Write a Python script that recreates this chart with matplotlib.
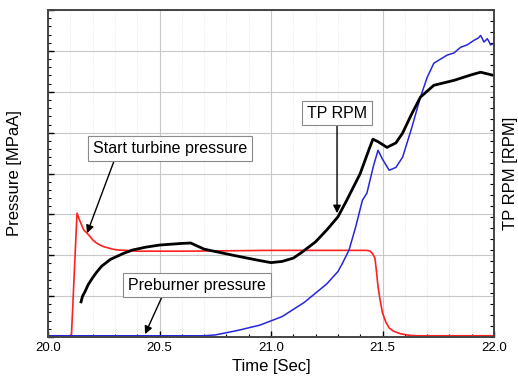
import matplotlib
matplotlib.use('Agg')
import matplotlib.pyplot as plt
from matplotlib.ticker import MultipleLocator, NullFormatter

plt.rcParams['font.family'] = ['Liberation Sans', 'DejaVu Sans']

# start turbine pressure (red)
t_red = [20.0, 20.105, 20.13, 20.14, 20.15, 20.16, 20.175, 20.19, 20.2, 20.215, 20.233, 20.25, 20.27,
         20.29, 20.31, 20.35, 20.4, 20.6, 20.8, 21.0, 21.2, 21.43, 21.445, 21.455, 21.466, 21.473,
         21.48, 21.49, 21.5, 21.515, 21.53, 21.55, 21.58, 21.62, 21.66, 22.0]
p_red = [0.03, 0.03, 3.03, 2.88, 2.75, 2.62, 2.54, 2.45, 2.38, 2.31, 2.25, 2.21, 2.18,
         2.15, 2.13, 2.12, 2.1, 2.1, 2.11, 2.12, 2.12, 2.12, 2.1, 2.04, 1.93, 1.6,
         1.22, 0.88, 0.59, 0.36, 0.22, 0.14, 0.08, 0.04, 0.03, 0.03]

# TP RPM (black)
t_rpm = [20.148, 20.155, 20.165, 20.18, 20.2, 20.22, 20.24, 20.28, 20.34, 20.38, 20.44, 20.5, 20.55,
         20.6, 20.64, 20.7, 20.83, 20.94, 21.0, 21.05, 21.1, 21.14, 21.2, 21.25, 21.3, 21.34, 21.4,
         21.44, 21.457, 21.48, 21.52, 21.56, 21.59, 21.63, 21.67, 21.73, 21.82, 21.9, 21.94, 22.0]
v_rpm = [0.86, 1.0, 1.1, 1.28, 1.45, 1.6, 1.73, 1.9, 2.05, 2.13, 2.2, 2.25, 2.27,
         2.29, 2.3, 2.15, 2.0, 1.88, 1.82, 1.85, 1.93, 2.08, 2.33, 2.62, 2.94, 3.35, 4.0,
         4.6, 4.84, 4.78, 4.64, 4.75, 4.99, 5.45, 5.87, 6.16, 6.28, 6.42, 6.48, 6.4]

# preburner pressure (blue)
t_pb = [20.0, 20.695, 20.75, 20.85, 20.95, 21.05, 21.15, 21.25, 21.3, 21.32, 21.35, 21.38, 21.41,
        21.43, 21.46, 21.48, 21.5, 21.53, 21.56, 21.59, 21.63, 21.67, 21.7, 21.73, 21.76, 21.79,
        21.82, 21.85, 21.88, 21.91, 21.93, 21.94, 21.955, 21.97, 21.985, 22.0]
p_pb = [0.03, 0.03, 0.05, 0.16, 0.29, 0.5, 0.85, 1.3, 1.6, 1.8, 2.13, 2.7, 3.35,
        3.52, 4.2, 4.57, 4.35, 4.08, 4.15, 4.4, 5.1, 5.87, 6.35, 6.7, 6.8, 6.9,
        6.95, 7.09, 7.15, 7.26, 7.32, 7.38, 7.22, 7.3, 7.15, 7.19]

fig = plt.figure(figsize=(5.18, 3.89), dpi=100)
ax = fig.add_axes([0.0927, 0.1337, 0.861, 0.8403])

ax.plot(t_red, p_red, color='#ff2020', lw=1.2)
ax.plot(t_pb, p_pb, color='#2626d8', lw=1.1)
ax.plot(t_rpm, v_rpm, color='black', lw=2.0)

ax.set_xlim(20, 22)
ax.set_ylim(0, 8)
ax.xaxis.set_major_locator(MultipleLocator(0.5))
ax.xaxis.set_minor_locator(MultipleLocator(0.1))
ax.yaxis.set_major_locator(MultipleLocator(1))
ax.yaxis.set_minor_locator(MultipleLocator(0.2))
ax.yaxis.set_major_formatter(NullFormatter())
ax.xaxis.set_major_formatter(matplotlib.ticker.FormatStrFormatter('%.1f'))
ax.tick_params(which='both', direction='in', top=False, right=False, labelsize=9.5)
ax.tick_params(which='major', length=4, width=1)
ax.tick_params(which='minor', length=2.5, width=0.8)
ax.grid(True, which='major', color='#c8c8c8', lw=0.8)
ax.grid(True, which='minor', axis='x', color='#e4e4e4', lw=0.6, ls=':')
for s in ax.spines.values():
    s.set_color('#444444')
    s.set_linewidth(1.2)

ax.set_xlabel('Time [Sec]', fontsize=12)
ax.set_ylabel('Pressure [MPaA]', fontsize=12)
ax.yaxis.set_label_coords(-0.058, 0.5)

ax2 = ax.twinx()
ax2.set_ylim(0, 30)
ax2.yaxis.set_major_locator(MultipleLocator(1))
ax2.yaxis.set_major_formatter(NullFormatter())
ax2.tick_params(direction='in', length=3, width=0.8)
ax2.set_ylabel('TP RPM [RPM]', fontsize=12)
ax2.yaxis.set_label_coords(1.02, 0.5)
for s in ax2.spines.values():
    s.set_color('#444444')
    s.set_linewidth(1.2)

box = dict(boxstyle='square,pad=0.3', fc='white', ec='#8a8a8a', lw=0.8)
ax.annotate('Start turbine pressure', xy=(20.175, 2.54), xytext=(20.547, 4.62),
            ha='center', va='center', fontsize=11.5, bbox=box,
            arrowprops=dict(arrowstyle='-|>', color='black', lw=1.0, relpos=(0.15, 0), shrinkA=0, shrinkB=0))
ax.annotate('TP RPM', xy=(21.296, 3.03), xytext=(21.296, 5.48),
            ha='center', va='center', fontsize=11.5, bbox=box,
            arrowprops=dict(arrowstyle='-|>', color='black', lw=1.0, relpos=(0.5, 0), shrinkA=0, shrinkB=0))
ax.annotate('Preburner pressure', xy=(20.435, 0.07), xytext=(20.668, 1.27),
            ha='center', va='center', fontsize=11.5, bbox=box,
            arrowprops=dict(arrowstyle='-|>', color='black', lw=1.0, relpos=(0.26, 0), shrinkA=0, shrinkB=0))

fig.savefig('out.png', dpi=100)
